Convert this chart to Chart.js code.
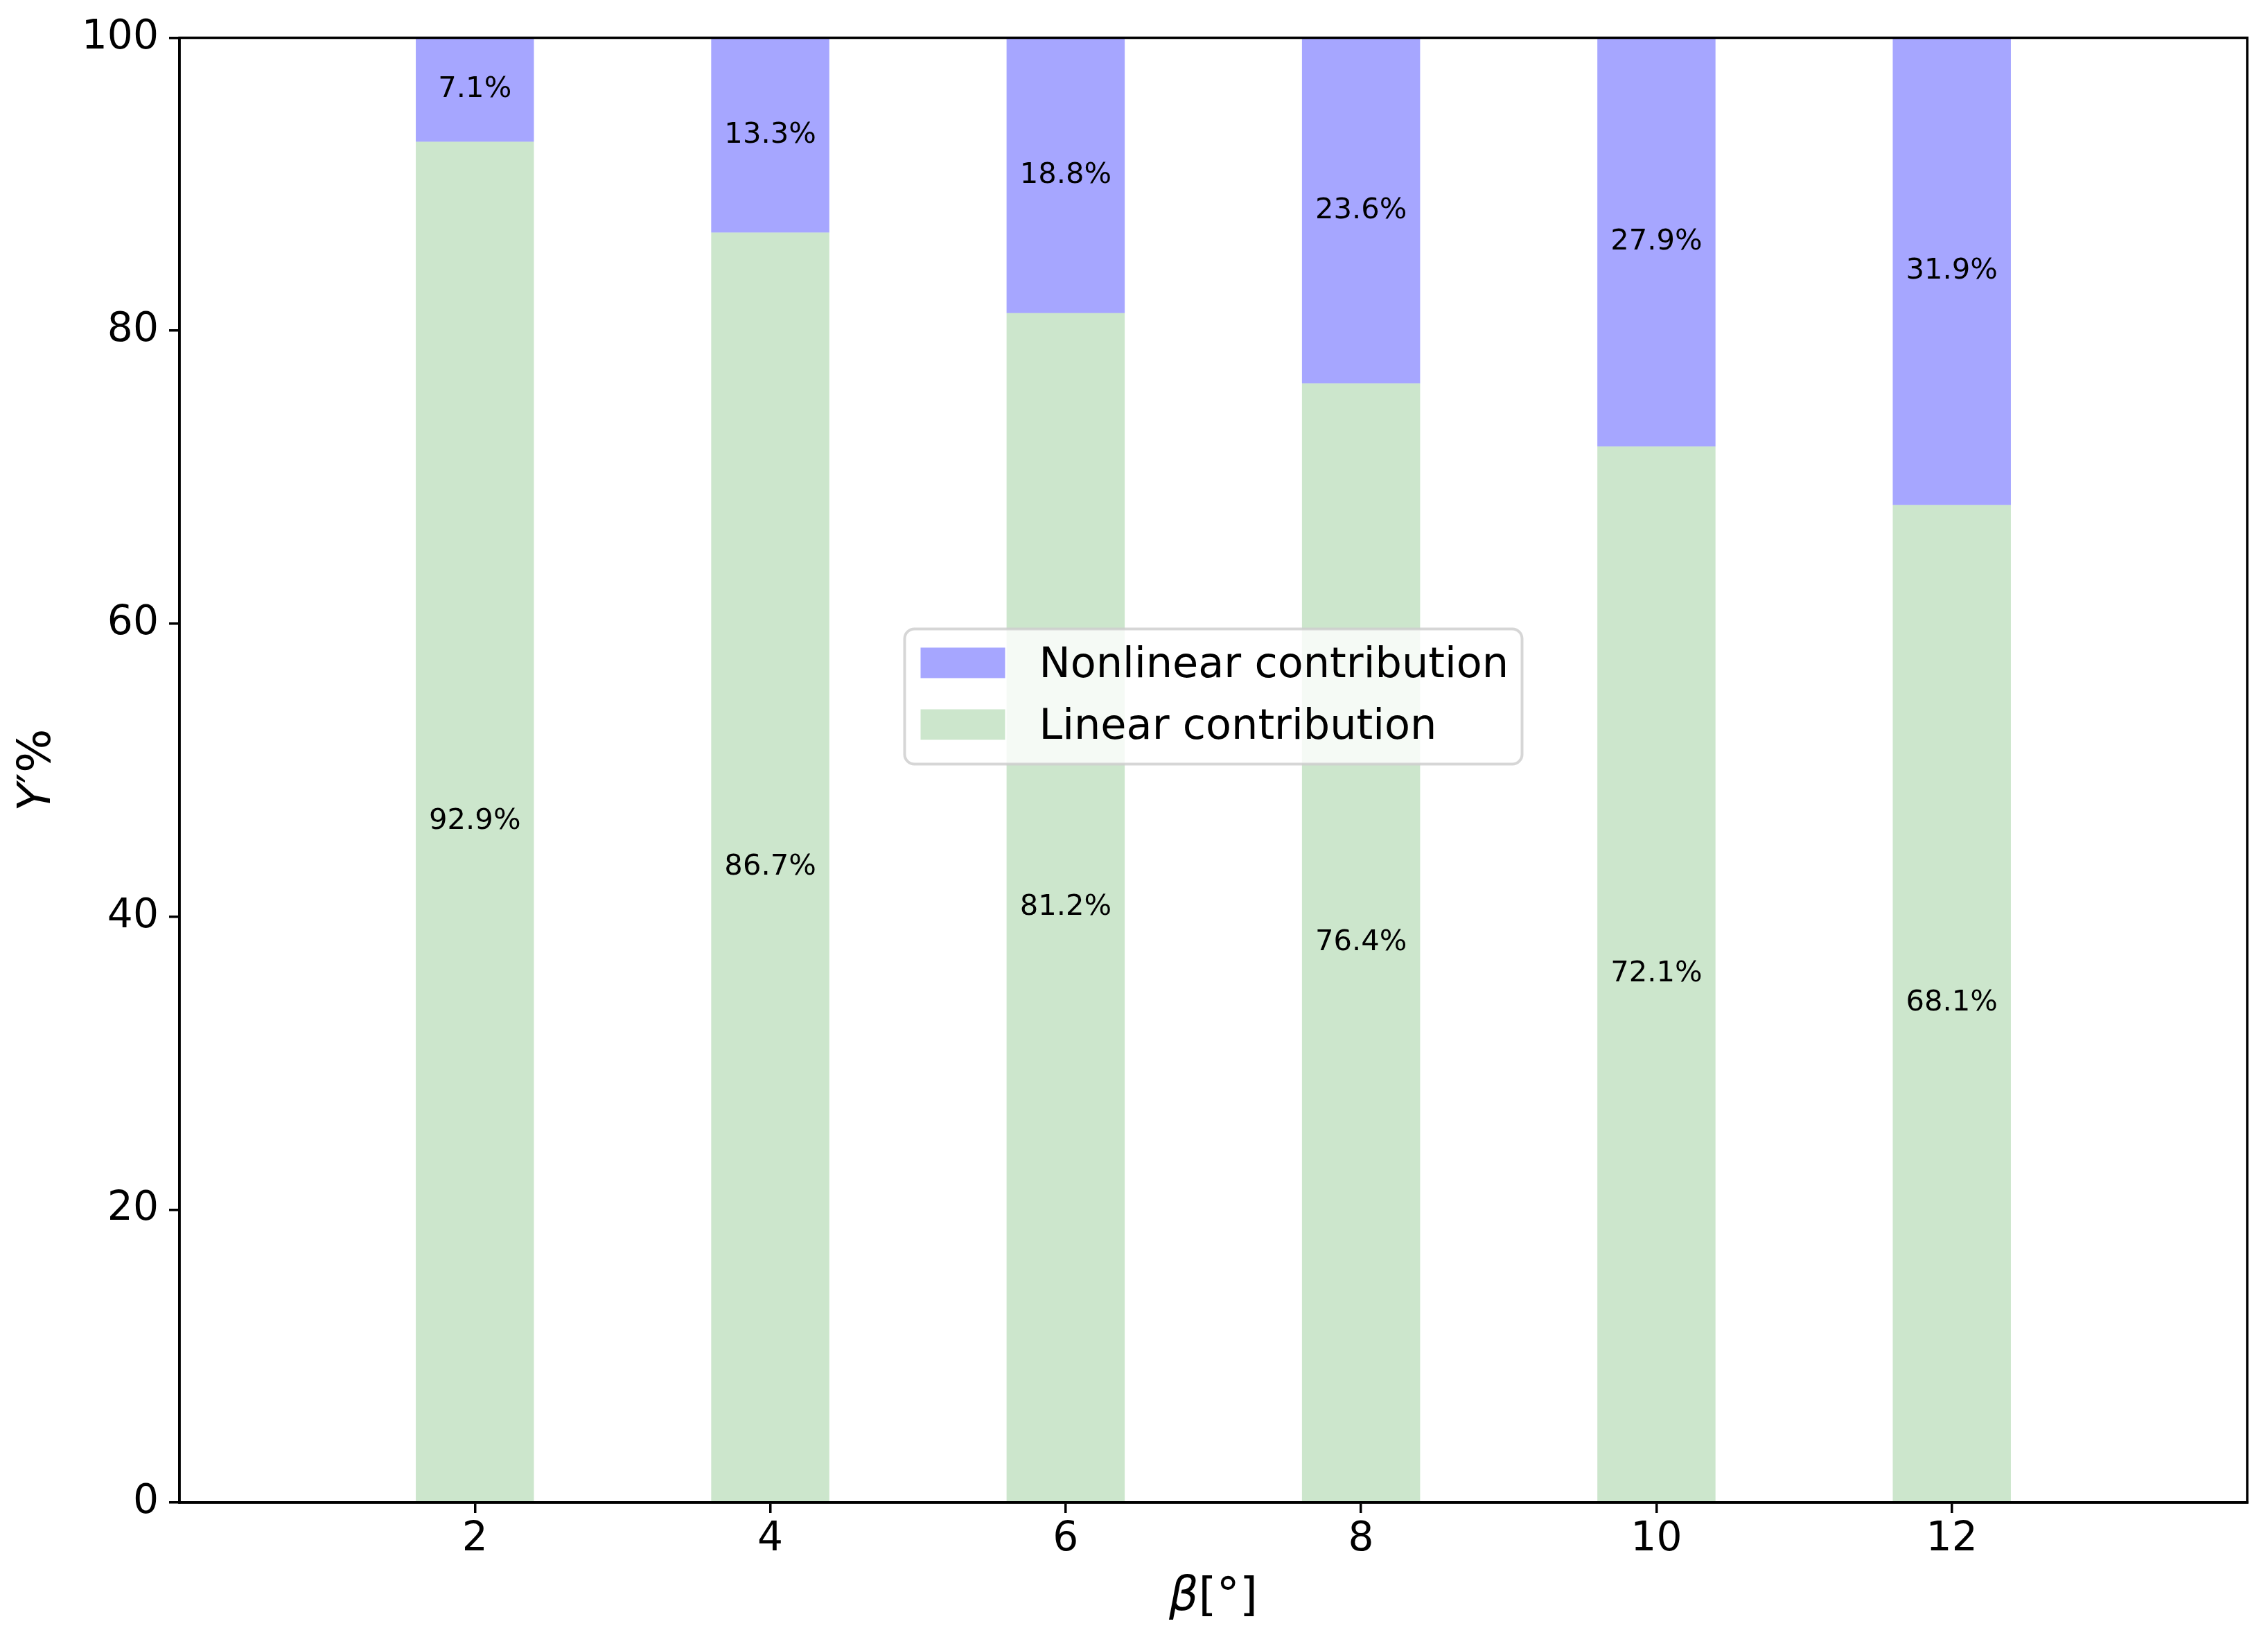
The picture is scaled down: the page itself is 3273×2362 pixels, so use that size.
<!DOCTYPE html>
<html><head><meta charset="utf-8">
<script src="https://cdn.jsdelivr.net/npm/chart.js@4"></script>
<style>html,body{margin:0;padding:0;background:#fff}#wrap{width:3273px;height:2362px;position:relative}</style>
</head><body><div id="wrap"><canvas id="c" width="3273" height="2362"></canvas></div>
<script>
const betas = [2, 4, 6, 8, 10, 12];
const linearPct = [92.9, 86.7, 81.2, 76.4, 72.1, 68.1];
const nonlinearPct = [7.1, 13.3, 18.8, 23.6, 27.9, 31.9];
const xTicks = [2, 4, 6, 8, 10, 12];
const yTicks = [0, 20, 40, 60, 80, 100];
const linearName = 'Linear contribution';
const nonlinearName = 'Nonlinear contribution';
const xTitleParts = [['β', true], ['[°]', false]];
const yTitleParts = [['Y', true], ['′%', false]];

const FONT = "'DejaVu Sans', sans-serif";
const GREEN = 'rgba(0,128,0,0.2)';
const BLUE = 'rgba(0,0,255,0.35)';

const barLabels = {
  id: 'barLabels',
  afterDatasetsDraw(chart) {
    const ctx = chart.ctx;
    ctx.save();
    ctx.font = '41.7px ' + FONT;
    ctx.fillStyle = '#000';
    ctx.textAlign = 'center';
    ctx.textBaseline = 'middle';
    chart.data.datasets.forEach((ds, di) => {
      const meta = chart.getDatasetMeta(di);
      meta.data.forEach((el, i) => {
        const v = ds.data[i].y;
        ctx.fillText(v.toFixed(1) + '%', el.x, (el.y + el.base) / 2);
      });
    });
    ctx.restore();
  }
};

const frame = {
  id: 'frame',
  afterDatasetsDraw(chart) {
    const a = chart.chartArea, ctx = chart.ctx;
    ctx.save();
    ctx.strokeStyle = '#000';
    ctx.lineWidth = 3.5;
    ctx.strokeRect(a.left, a.top, a.right - a.left, a.bottom - a.top);
    ctx.restore();
  }
};

function drawParts(ctx, parts, size) {
  let total = 0;
  const widths = parts.map(([t, it]) => {
    ctx.font = (it ? 'italic ' : '') + size + 'px ' + FONT;
    const w = ctx.measureText(t).width; total += w; return w;
  });
  let x = -total / 2;
  parts.forEach(([t, it], k) => {
    ctx.font = (it ? 'italic ' : '') + size + 'px ' + FONT;
    ctx.fillText(t, x, 0);
    x += widths[k];
  });
}

const axisTitles = {
  id: 'axisTitles',
  afterDraw(chart) {
    const a = chart.chartArea, ctx = chart.ctx;
    ctx.save();
    ctx.fillStyle = '#000';
    ctx.textBaseline = 'middle';
    ctx.textAlign = 'left';
    ctx.save();
    ctx.translate((a.left + a.right) / 2, 2306);
    drawParts(ctx, xTitleParts, 66.7);
    ctx.restore();
    ctx.save();
    ctx.translate(55, (a.top + a.bottom) / 2);
    ctx.rotate(-Math.PI / 2);
    drawParts(ctx, yTitleParts, 66.7);
    ctx.restore();
    ctx.restore();
  }
};

const innerLegend = {
  id: 'innerLegend',
  afterDraw(chart) {
    const a = chart.chartArea, ctx = chart.ctx;
    const w = 891, h = 195;
    const cx = a.left + (a.right - a.left) * 0.5;
    const cy = a.top + (a.bottom - a.top) * 0.4497;
    const x0 = cx - w / 2, y0 = cy - h / 2;
    ctx.save();
    ctx.beginPath();
    ctx.roundRect(x0, y0, w, h, 14);
    ctx.fillStyle = 'rgba(255,255,255,0.8)';
    ctx.fill();
    ctx.lineWidth = 4;
    ctx.strokeStyle = 'rgba(204,204,204,0.8)';
    ctx.stroke();
    const items = [chart.data.datasets[1], chart.data.datasets[0]];
    ctx.font = '60.5px ' + FONT;
    ctx.textBaseline = 'middle';
    ctx.textAlign = 'left';
    items.forEach((ds, k) => {
      const rowY = y0 + 49 + k * 89;
      ctx.fillStyle = ds.backgroundColor;
      ctx.fillRect(x0 + 23, rowY - 22, 122, 44);
      ctx.fillStyle = '#000';
      ctx.fillText(ds.label, x0 + 194, rowY + 5);
    });
    ctx.restore();
  }
};

const tickGrid = {
  drawOnChartArea: false,
  drawTicks: true,
  tickLength: 15,
  tickWidth: 3.5,
  tickColor: '#000',
  color: '#000',
  lineWidth: 3.5,
  offset: false
};

new Chart(document.getElementById('c'), {
  type: 'bar',
  data: {
    datasets: [
      { label: linearName, data: betas.map((b, i) => ({ x: b, y: linearPct[i] })), backgroundColor: GREEN, borderWidth: 0 },
      { label: nonlinearName, data: betas.map((b, i) => ({ x: b, y: nonlinearPct[i] })), backgroundColor: BLUE, borderWidth: 0 }
    ]
  },
  options: {
    responsive: false,
    animation: false,
    devicePixelRatio: 1,
    layout: { padding: { left: 0, right: 30, top: 54.5, bottom: 0 } },
    datasets: { bar: { barPercentage: 0.4, categoryPercentage: 1.0 } },
    plugins: { legend: { display: false }, tooltip: { enabled: false } },
    scales: {
      x: {
        type: 'linear', stacked: true, min: 0, max: 14, offset: false,
        afterBuildTicks(s) { s.ticks = xTicks.map(v => ({ value: v })); },
        afterFit(s) { s.height = 194; },
        grid: tickGrid,
        border: { display: true, color: '#000', width: 3.5 },
        ticks: { color: '#000', font: { family: FONT, size: 58.3 }, padding: 4, maxRotation: 0, autoSkip: false },
        title: { display: false }
      },
      y: {
        type: 'linear', stacked: true, min: 0, max: 100,
        afterBuildTicks(s) { s.ticks = yTicks.map(v => ({ value: v })); },
        afterFit(s) { s.width = 259; },
        grid: tickGrid,
        border: { display: true, color: '#000', width: 3.5 },
        ticks: { color: '#000', font: { family: FONT, size: 58.3 }, padding: 15, autoSkip: false },
        title: { display: false }
      }
    }
  },
  plugins: [barLabels, frame, innerLegend, axisTitles]
});
</script>
</body></html>
